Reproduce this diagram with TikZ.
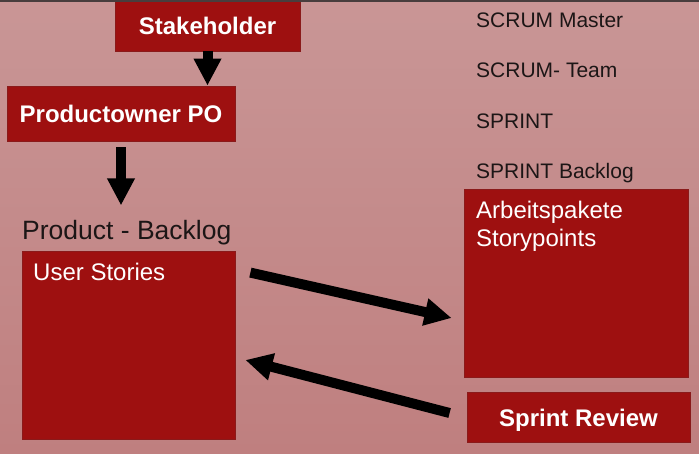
\documentclass[tikz,border=0pt]{standalone}
\usepackage{fontspec}
\setmainfont{Liberation Sans}
\usetikzlibrary{arrows.meta,calc}
\definecolor{bgtop}{RGB}{201,150,150}
\definecolor{bgbot}{RGB}{191,127,127}
\definecolor{boxfill}{RGB}{158,16,16}
\definecolor{boxline}{RGB}{138,26,26}
\definecolor{ink}{RGB}{28,22,22}
\definecolor{edge}{RGB}{72,62,62}
\begin{document}
\begin{tikzpicture}[x=1pt,y=-1pt,
  redbox/.style={draw=boxline,fill=boxfill,line width=0.8pt,inner sep=0pt},
  boldlabel/.style={text=white,font=\fontsize{24}{28}\bfseries\selectfont,text height=18pt,text depth=0pt},
  boxtext/.style={text=white,font=\fontsize{24}{28}\selectfont,inner sep=0pt,anchor=base west},
  roletext/.style={text=ink,font=\fontsize{21}{25}\selectfont,inner sep=0pt,anchor=base west},
  bigarrow/.style={draw=black,line width=10pt,-{Triangle[length=27pt,width=26pt]}}]

% page and background
\useasboundingbox (0,0) rectangle (699,453);
\shade[top color=bgtop,bottom color=bgbot] (0,0) rectangle (699,453);

% boxes
\node[redbox,boldlabel,minimum width=185pt,minimum height=51pt] (stake) at (207.5,25.5) {Stakeholder};
\node[redbox,boldlabel,minimum width=228pt,minimum height=55pt] (po) at (121,113.5) {Productowner PO};
\node[text=ink,font=\fontsize{26.5}{30}\selectfont,inner sep=0pt,anchor=base west] (pb) at (22,239) {Product - Backlog};
\node[redbox,minimum width=213pt,minimum height=188pt] (us) at (128.5,345) {};
\node[boxtext] (ustxt) at (33,280) {User Stories};
\node[redbox,minimum width=224pt,minimum height=188pt] (ap) at (576,283) {};
\node[boxtext] (aptxt1) at (476,218) {Arbeitspakete};
\node[boxtext] (aptxt2) at (476,246) {Storypoints};
\node[redbox,boldlabel,minimum width=223pt,minimum height=50pt] (sr) at (578.5,417) {Sprint Review};

% roles list
\node[roletext] (sm) at (476,27) {SCRUM Master};
\node[roletext] (st) at (476,77) {SCRUM- Team};
\node[roletext] (sp) at (476,128) {SPRINT};
\node[roletext] (sb) at (476,178) {SPRINT Backlog};

% arrows
\draw[bigarrow] (stake.south) -- (stake.south |- po.north);
\coordinate (pbin) at ($(po.south)+(0,64)$);
\draw[bigarrow] ($(po.south)+(0,6)$) -- (pbin);
\coordinate (usout) at ($(us.north east)+(15,22)$);
\coordinate (apin) at ($(ap.west)+(-12,35)$);
\draw[bigarrow] (usout) -- (apin);
\coordinate (srout) at ($(sr.west)+(-17,-4)$);
\coordinate (usin) at ($(us.east)+(10,15)$);
\draw[bigarrow] (srout) -- (usin);

% top edge
\draw[edge,line width=1.5pt] (0,0.75) -- (699,0.75);
\end{tikzpicture}
\end{document}
